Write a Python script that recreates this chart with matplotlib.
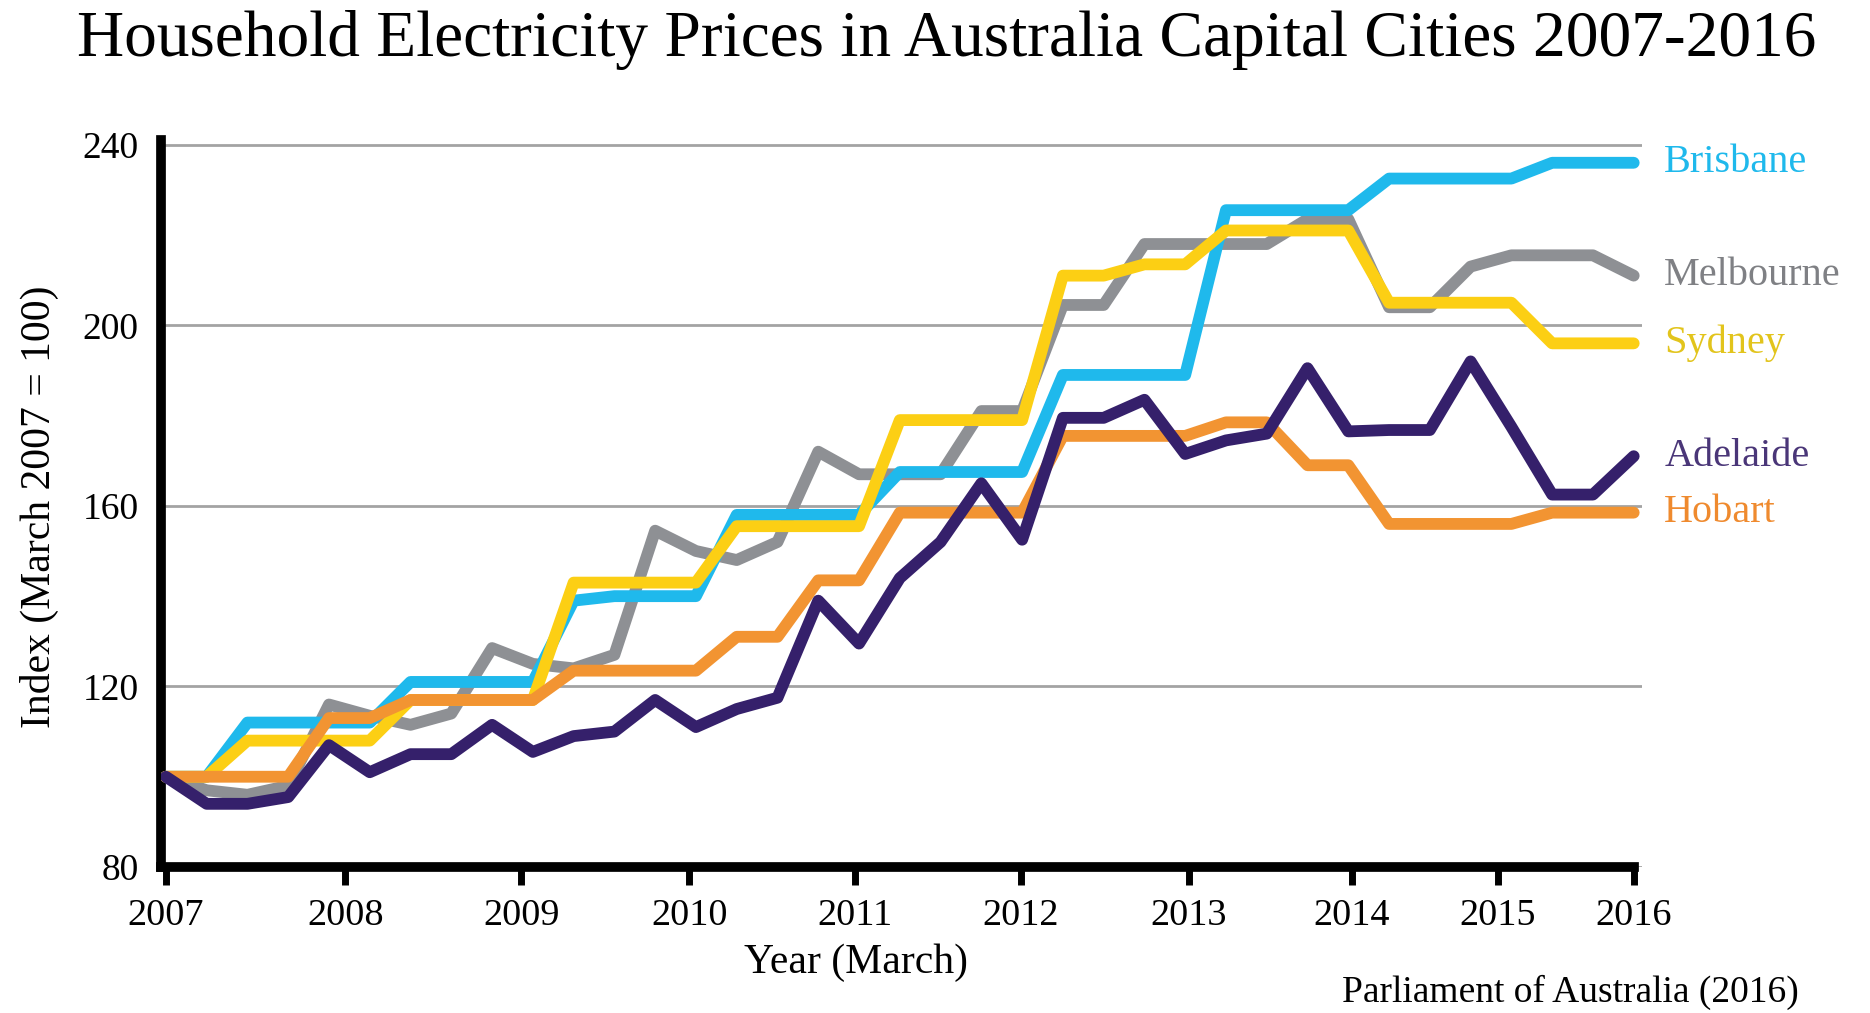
import numpy as np
import matplotlib
matplotlib.use("Agg")
import matplotlib.pyplot as plt

plt.rcParams['font.family'] = ['Liberation Serif', 'DejaVu Serif']

# Données trimestrielles, mars 2007 -> mars 2016 (indice mars 2007 = 100)
quarters = np.arange(37)

brisbane = [100, 100, 112, 112, 112, 112, 121, 121, 121, 121, 139, 140,
            140, 140, 158, 158, 158, 158, 167.5, 167.5, 167.5, 167.5, 189, 189,
            189, 189, 225.5, 225.5, 225.5, 225.5, 232.5, 232.5, 232.5, 232.5, 236, 236,
            236]
melbourne = [100, 97, 96, 98, 116, 113.5, 111.5, 114, 128.5, 125, 124, 127,
             154.5, 150, 148, 152, 172, 167, 167, 167, 181, 181, 204.5, 204.5,
             218, 218, 218, 218, 223.5, 223.5, 204, 204, 213, 215.5, 215.5, 215.5,
             211]
sydney = [100, 100, 108, 108, 108, 108, 117, 117, 117, 117, 143, 143,
          143, 143, 155.5, 155.5, 155.5, 155.5, 179, 179, 179, 179, 211, 211,
          213.5, 213.5, 221, 221, 221, 221, 205, 205, 205, 205, 196, 196,
          196]
adelaide = [100, 94, 94, 95.5, 107, 101, 105, 105, 111.5, 105.5, 109, 110,
            117, 111, 115, 117.5, 139, 129.5, 144, 152, 165, 152.5, 179.5, 179.5,
            183.5, 171.5, 174.5, 176, 190.5, 176.5, 176.8, 176.8, 192, 177.5, 162.5, 162.5,
            171]
hobart = [100, 100, 100, 100, 113, 113, 117, 117, 117, 117, 123.5, 123.5,
          123.5, 123.5, 131, 131, 143.5, 143.5, 158.5, 158.5, 158.5, 158.5, 175.5, 175.5,
          175.5, 175.5, 178.5, 178.5, 169, 169, 156, 156, 156, 156, 158.5, 158.5,
          158.5]

# positions des graduations annuelles (en trimestres)
year_pos = [0, 4.4, 8.72, 12.84, 16.89, 20.97, 25.09, 29.08, 32.67, 36]
year_labels = ['2007', '2008', '2009', '2010', '2011', '2012', '2013', '2014', '2015', '2016']
y_ticks = [80, 120, 160, 200, 240]

series = [
    ('Melbourne', melbourne, '#8e9094', '#7f8084'),
    ('Brisbane', brisbane, '#1fb9ec', '#1fb9ec'),
    ('Sydney', sydney, '#fccf14', '#e2c41c'),
    ('Hobart', hobart, '#f29432', '#ef8a2e'),
    ('Adelaide', adelaide, '#35206b', '#4a3678'),
]

fig = plt.figure(figsize=(18.7, 10.13), dpi=100)
ax = fig.add_axes([0.0861, 0.1441, 0.7919, 0.7175])

for name, vals, col, tcol in series:
    ax.plot(quarters, vals, color=col, lw=8.5, solid_capstyle='round',
            solid_joinstyle='round', zorder=3)
    ax.annotate(name, (quarters[-1], vals[-1]), xytext=(22, 0),
                textcoords='offset points', va='center', ha='left',
                color=tcol, fontsize=29, annotation_clip=False)

ax.set_xlim(-0.12, 36.2)
ax.set_ylim(80, 241)
ax.set_yticks(y_ticks)
ax.set_xticks(year_pos)
ax.set_xticklabels(year_labels)
ax.yaxis.grid(True, color='#a3a3a3', lw=2)
ax.set_axisbelow(True)

for s in ['top', 'right']:
    ax.spines[s].set_visible(False)
for s in ['left', 'bottom']:
    ax.spines[s].set_linewidth(7)
ax.spines['bottom'].set_bounds(-0.12, 36)

ax.tick_params(axis='y', length=0, pad=16, labelsize=27)
ax.tick_params(axis='x', length=13, width=5, direction='out', pad=10, labelsize=27.5)

fig.text(0.506, 0.961, 'Household Electricity Prices in Australia Capital Cities 2007-2016',
         ha='center', va='center', fontsize=47.1)
fig.text(0.458, 0.05, 'Year (March)', ha='center', va='center', fontsize=30)
fig.text(0.021, 0.5, 'Index (March 2007 = 100)', ha='center', va='center',
         rotation=90, fontsize=30)
fig.text(0.962, 0.02, 'Parliament of Australia (2016)', ha='right', va='center', fontsize=27)

fig.savefig('out.png', dpi=100)
